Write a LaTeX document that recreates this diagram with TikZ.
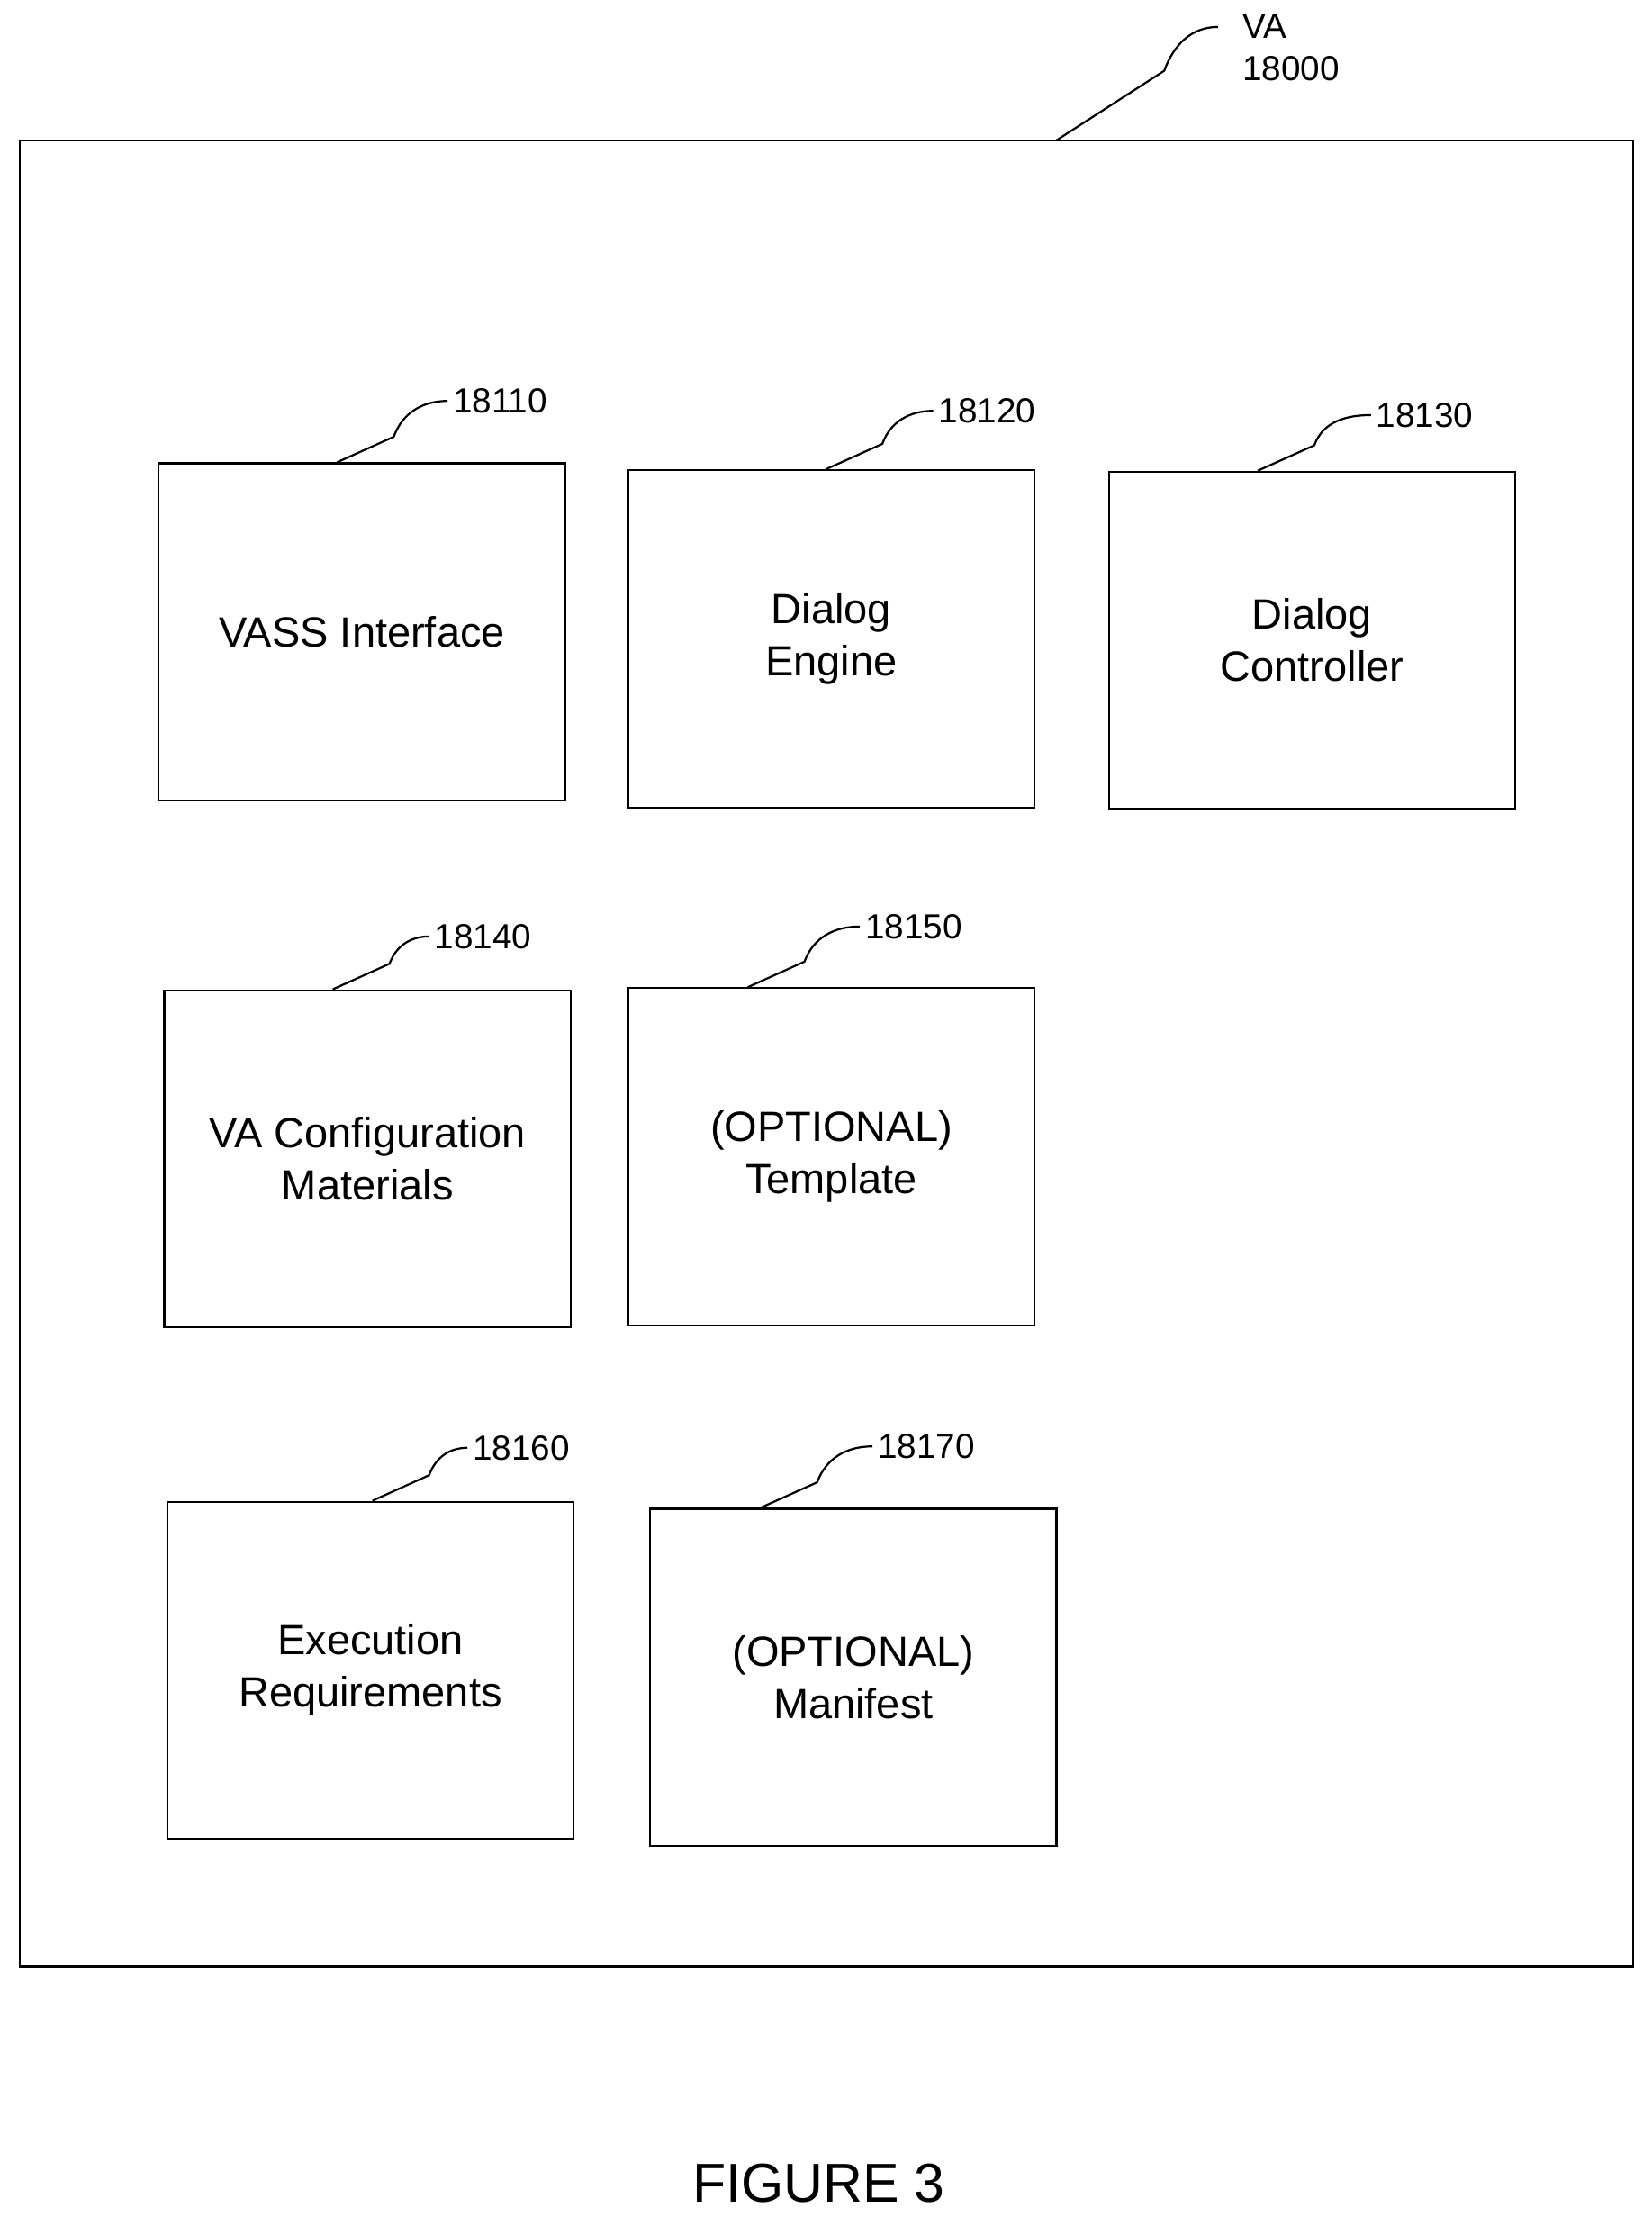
\documentclass[tikz,border=0pt]{standalone}
\usepackage{fontspec}
\setmainfont{Liberation Sans}
\usetikzlibrary{positioning}

\begin{document}
\begin{tikzpicture}
    [x=0.02cm, y=-0.02cm,
    % STYLES
    % The unit style is used to draw each part of the VA
    unit/.style={rectangle, draw, thick, minimum width=5.74cm, minimum height=4.76cm, align=center, font=\fontsize{17}{21}\selectfont},
    % The ref style is used for the reference numbers
    ref/.style={inner sep=2pt, anchor=west, font=\fontsize{14}{17}\selectfont},
    lead/.style={thick}]

    \useasboundingbox (0,0) rectangle (1166,1565);
    \draw[thick] (14,99) rectangle (1153,1388);

    % Draw units
    \node [unit] (vass) at (255.5,446) {VASS Interface};
    \node [unit] (engine) at (587,451) {Dialog\\Engine};
    \node [unit] (ctrl) at (926.5,452) {Dialog\\Controller};
    \node [unit] (config) at (259.5,818) {VA Configuration\\Materials};
    \node [unit] (templ) at (587,816.5) {(OPTIONAL)\\Template};
    \node [unit] (exec) at (261.5,1179) {Execution\\Requirements};
    \node [unit] (manif) at (602.5,1184) {(OPTIONAL)\\Manifest};

    % Reference numbers
    \node [ref] (rvass) at (316,283) {18110};
    \node [ref] (rengine) at (659,290) {18120};
    \node [ref] (rctrl) at (968,293) {18130};
    \node [ref] (rconfig) at (303,661) {18140};
    \node [ref] (rtempl) at (607,654) {18150};
    \node [ref] (rexec) at (330,1022) {18160};
    \node [ref] (rmanif) at (616,1021) {18170};
    \node [ref, anchor=north west, align=left, inner sep=0pt] (rva) at (877,10) {VA\\18000};

    % Leaders
    \draw[lead] ([xshift=-0.35cm]vass.north) -- ++(40,-18) to[out=70,in=180] (rvass.west);
    \draw[lead] ([xshift=-0.08cm]engine.north) -- ++(40,-18) to[out=70,in=180] (rengine.west);
    \draw[lead] ([xshift=-0.77cm]ctrl.north) -- ++(40,-18) to[out=70,in=180] (rctrl.west);
    \draw[lead] ([xshift=-0.49cm]config.north) -- ++(40,-18) to[out=70,in=180] (rconfig.west);
    \draw[lead] ([xshift=-1.18cm]templ.north) -- ++(40,-18) to[out=70,in=180] (rtempl.west);
    \draw[lead] ([xshift=0.03cm]exec.north) -- ++(40,-18) to[out=70,in=180] (rexec.west);
    \draw[lead] ([xshift=-1.31cm]manif.north) -- ++(40,-18) to[out=70,in=180] (rmanif.west);
    \coordinate (vatop) at (746,99);
    \draw[lead] (vatop) -- (822,50) to[out=70,in=180] (860,19);

    \node [font=\fontsize{22}{26}\selectfont] (fig) at (578,1541) {FIGURE 3};
\end{tikzpicture}
\end{document}
